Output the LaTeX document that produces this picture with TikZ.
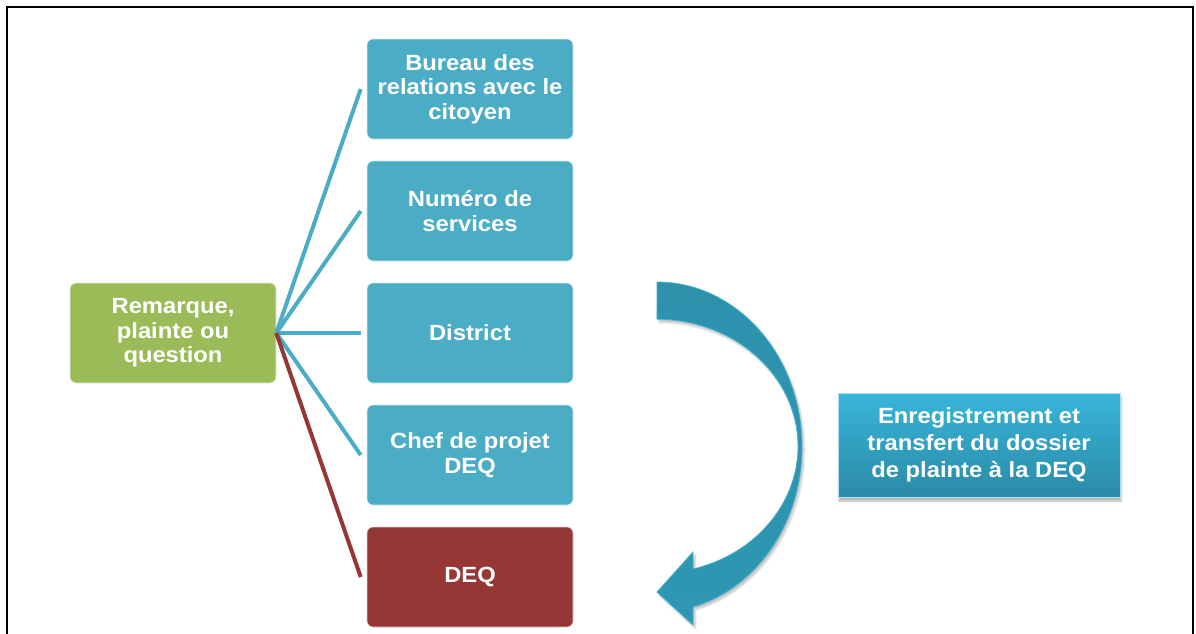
\documentclass[tikz,border=0pt]{standalone}
\usepackage{fontspec}
\setmainfont{Liberation Sans}[FakeStretch=1.08]
\usetikzlibrary{shadows.blur}
\definecolor{boxblue}{HTML}{4BACC6}
\definecolor{boxgreen}{HTML}{9BBB59}
\definecolor{boxred}{HTML}{953735}
\definecolor{arrowtop}{HTML}{2D91AC}
\definecolor{arrowmid}{HTML}{2A87A1}
\definecolor{arrowbot}{HTML}{2F97B3}
\definecolor{arrowedge}{HTML}{45B2CF}
\definecolor{recordtop}{HTML}{38B5DA}
\definecolor{recordbot}{HTML}{2B8AA6}
\begin{document}
\begin{tikzpicture}[x=1pt,y=-1pt,
    box/.style={rounded corners=6pt,minimum width=206pt,minimum height=100pt,inner sep=0pt,align=center,text=white,font=\bfseries\fontsize{22}{24.5}\selectfont,line width=0.6pt},
    link/.style={line width=4pt}]
        \useasboundingbox (0,0) rectangle (1196,633);
        %% Frame
        \draw[line width=2pt] (7,640) -- (7,7) -- (1193,7) -- (1193,640);
        %% left block
        \node[box,fill=boxgreen,draw=white!75!boxgreen] (A) at (173,333) {Remarque,\\plainte ou\\question};
        %% blocks column
        \node[box,fill=boxblue,draw=white!75!boxblue] (B) at (470,89) {Bureau des\\relations avec le\\citoyen};
        \node[box,fill=boxblue,draw=white!75!boxblue] (C) at (470,211) {Numéro de\\services};
        \node[box,fill=boxblue,draw=white!75!boxblue] (D) at (470,333) {District};
        \node[box,fill=boxblue,draw=white!75!boxblue] (E) at (470,455) {Chef de projet\\DEQ};
        \node[box,fill=boxred,draw=white!75!boxred] (F) at (470,577) {DEQ};
        %% strings
        \draw[link,boxblue] (A.east) -- ([xshift=-6pt]B.west);
        \draw[link,boxblue] (A.east) -- ([xshift=-6pt]C.west);
        \draw[link,boxblue] (A.east) -- ([xshift=-6pt]D.west);
        \draw[link,boxblue] (A.east) -- ([xshift=-6pt]E.west);
        \draw[link,boxred] (A.east) -- ([xshift=-6pt]F.west);
        %% curved arrow
        \path[top color=arrowtop,middle color=arrowmid,bottom color=arrowbot,draw=arrowedge,line width=0.8pt,
              blur shadow={shadow xshift=2pt,shadow yshift=-3pt,shadow opacity=25,shadow blur steps=5}]
            (657,282) arc[start angle=-90,end angle=75.6,x radius=145,y radius=165]
            -- (693,625) -- (657,592) -- (693,552) -- (693,569)
            arc[start angle=75.2,end angle=-90,x radius=141,y radius=127] -- cycle;
        %% record block
        \node[top color=recordtop,bottom color=recordbot,draw=white!60!recordtop,line width=0.6pt,
              minimum width=282pt,minimum height=104pt,inner sep=0pt,align=center,text=white,
              font=\bfseries\fontsize{22}{27}\selectfont,
              blur shadow={shadow xshift=1pt,shadow yshift=-4pt,shadow opacity=30,shadow blur steps=6}]
            (G) at (979,445) {Enregistrement et\\transfert du dossier\\de plainte à la DEQ};
    \end{tikzpicture}
\end{document}
